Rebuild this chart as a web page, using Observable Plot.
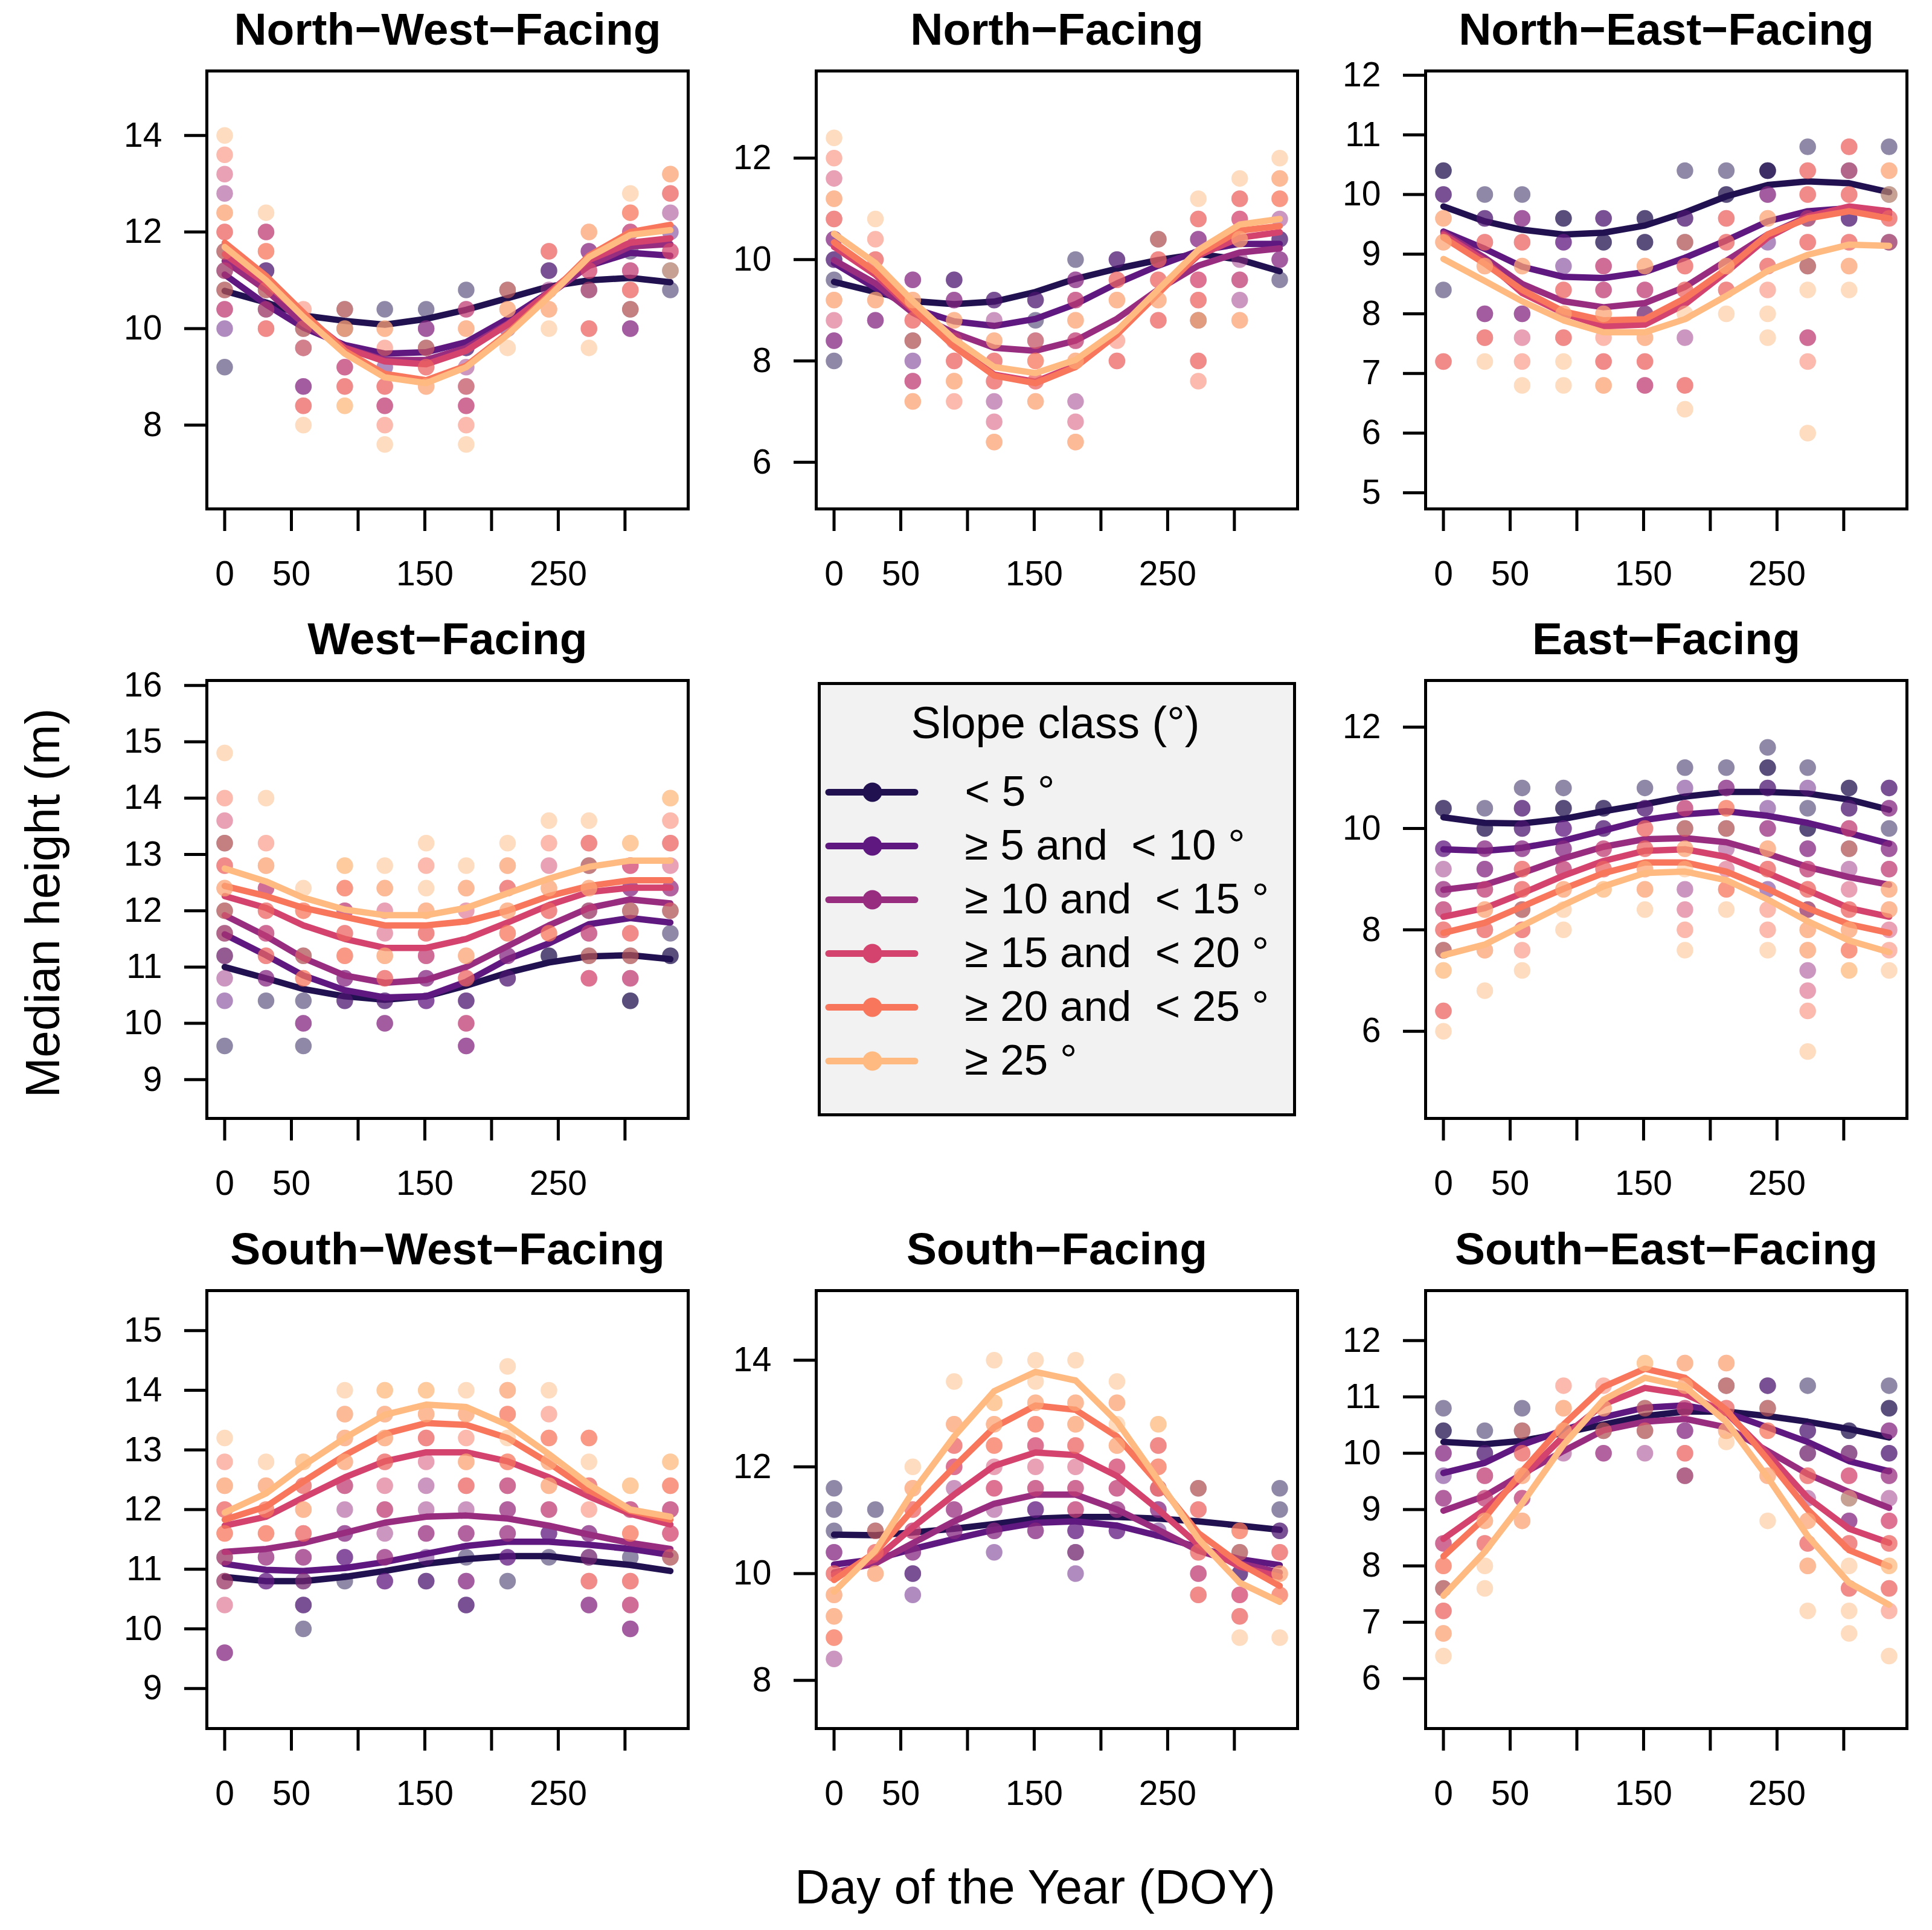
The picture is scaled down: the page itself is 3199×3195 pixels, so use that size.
<!DOCTYPE html>
<html>
<head>
<meta charset="utf-8">
<script src="https://cdn.jsdelivr.net/npm/d3@7"></script>
<script src="https://cdn.jsdelivr.net/npm/@observablehq/plot@0.6"></script>
<style>
  body { margin: 0; background: #fff; }
  #page { position: relative; width: 3199px; height: 3195px; background: #fff; overflow: hidden; }
  #page svg { position: absolute; }
</style>
</head>
<body>
<div id="page"></div>
<script>
const FONT = '"Liberation Sans", Arial, Helvetica, sans-serif';

// Day of year of each monthly acquisition
const doy = [0, 31, 59, 90, 120, 151, 181, 212, 243, 273, 304, 334];
const xTicks = [0, 50, 100, 150, 200, 250, 300];
const xTickLabels = [0, 50, 150, 250];

const slopeClasses = ["< 5 °", "≥ 5 and  < 10 °", "≥ 10 and  < 15 °", "≥ 15 and  < 20 °", "≥ 20 and  < 25 °", "≥ 25 °"];
const slopeColors = ["#221150", "#5F187F", "#982D80", "#D3436E", "#F8765C", "#FEBA80"];

// Observed points: [doy index, median height, slope classes observed at that value...]
const ptsNW = [
  [0,14.0,6],[0,13.6,5],[0,13.2,4],[0,12.8,3],[0,12.4,6,5],[0,12.0,4,5],[0,11.6,1,5],[0,11.2,1,4],[0,10.8,1,5],[0,10.4,3,4],[0,10.0,2],[0,9.2,1],
  [1,12.4,6],[1,12.0,3,4],[1,11.6,5,5],[1,11.2,1,2],[1,10.8,5,1],[1,10.4,4,1],[1,10.0,5,4],
  [2,10.4,5],[2,10.0,1,5],[2,9.6,5,2],[2,8.8,2,3],[2,8.4,5,4],[2,8.0,6],
  [3,10.4,1,5],[3,10.0,5,6,1],[3,9.2,3,4],[3,8.8,5,4],[3,8.4,6,6],
  [4,10.4,1],[4,10.0,5,6],[4,9.6,5],[4,9.2,2],[4,8.8,5,4],[4,8.4,3,4],[4,8.0,5],[4,7.6,6],
  [5,10.4,1],[5,10.0,3,2],[5,9.6,5,1],[5,9.2,5,4],[5,8.8,6,5],
  [6,10.8,1],[6,10.4,3,4],[6,10.0,6,5],[6,9.6,1,2],[6,9.2,3],[6,8.8,5,2],[6,8.4,3,4],[6,8.0,5],[6,7.6,6],
  [7,10.8,5,1],[7,10.4,5,6],[7,10.0,2],[7,9.6,6],
  [8,11.6,5,4],[8,11.2,1,2],[8,10.8,3],[8,10.4,5,6],[8,10.0,6],
  [9,12.0,5,6],[9,11.6,3,2],[9,11.2,4,4],[9,10.8,1,4],[9,10.0,5,4],[9,9.6,6],
  [10,12.8,6],[10,12.4,5,5],[10,12.0,3,4],[10,11.6,1],[10,11.2,4,3],[10,10.8,5,4],[10,10.4,5,1],[10,10.0,3,2],
  [11,13.2,6,5],[11,12.8,5,4],[11,12.4,3],[11,12.0,2],[11,11.6,4,4],[11,11.2,1,6],[11,10.8,1]
];
const ptsN = [
  [0,12.4,6],[0,12.0,5],[0,11.6,4],[0,11.2,6,5],[0,10.8,4,5],[0,10.4,2,3],[0,10.0,1,2],[0,9.6,1],[0,9.2,6,5],[0,8.8,4],[0,8.4,3,2],[0,8.0,1],
  [1,10.8,6],[1,10.4,5],[1,10.0,5,4],[1,9.2,6,5],[1,8.8,3,2],
  [2,9.6,2,3],[2,9.2,5,6],[2,8.8,5,4],[2,8.4,1,5],[2,8.0,2],[2,7.6,3,4],[2,7.2,6,5],
  [3,9.6,2,1],[3,9.2,2,3],[3,8.8,5,6],[3,8.4,4],[3,8.0,5,4],[3,7.6,5,6],[3,7.2,5],
  [4,9.2,1,2],[4,8.8,3],[4,8.4,5,6],[4,8.0,5,4],[4,7.6,4,5],[4,7.2,3],[4,6.8,4],[4,6.4,6,5],
  [5,9.2,1,2],[5,8.8,1],[5,8.4,5,2],[5,8.0,5,5],[5,7.6,4,5],[5,7.2,5,6],
  [6,10.0,1],[6,9.6,3,2],[6,9.2,3,4],[6,8.8,6,5],[6,8.4,3,4],[6,8.0,5,6],[6,7.2,3],[6,6.8,4],[6,6.4,6,5],
  [7,10.0,1,2],[7,9.6,4,5],[7,9.2,5,6],[7,8.4,5],[7,8.0,5,4],
  [8,10.4,1,5],[8,10.0,4,5],[8,9.6,4,5],[8,9.2,5,6],[8,8.8,5,4],
  [9,11.2,6],[9,10.8,4,5],[9,10.4,2,3],[9,9.6,4,4],[9,9.2,5,4],[9,8.8,1,5,6],[9,8.0,5,4],[9,7.6,5],
  [10,11.6,6],[10,11.2,5,4],[10,10.8,4,4],[10,10.4,6,5],[10,10.0,3],[10,9.6,4,3],[10,9.2,3],[10,8.8,5,6],
  [11,12.0,6],[11,11.6,5,6],[11,11.2,5,5],[11,10.8,3],[11,10.4,2,1],[11,10.0,3,2],[11,9.6,1]
];
const ptsNE = [
  [0,10.4,1,1],[0,10.0,2,1],[0,9.6,5,6],[0,9.2,6,5],[0,8.4,1],[0,7.2,5,4],
  [1,10.0,1],[1,9.6,1,2],[1,9.2,5,4],[1,8.8,6,5],[1,8.0,3,2],[1,7.6,4,5],[1,7.2,6],
  [2,10.0,1],[2,9.6,2,3],[2,9.2,4,5],[2,8.8,6,5],[2,8.0,3,2],[2,7.6,4],[2,7.2,5],[2,6.8,6],
  [3,9.6,1,1],[3,9.2,2,2],[3,8.8,2],[3,8.4,4,5],[3,8.0,5,6],[3,7.6,4,5],[3,7.2,6],[3,6.8,6],
  [4,9.6,1,2],[4,9.2,1,1],[4,8.8,3,4],[4,8.4,3,4],[4,8.0,6,5],[4,7.6,5],[4,7.2,4,5],[4,6.8,5,6],
  [5,9.6,1,1],[5,9.2,1,1],[5,8.8,5,6],[5,8.4,3,4],[5,8.0,3,1],[5,7.6,6,5],[5,7.2,4,5],[5,6.8,3,4],
  [6,10.4,1],[6,9.6,1,2],[6,9.2,5,1],[6,8.8,5,4],[6,8.4,4,5],[6,8.0,6],[6,7.6,3],[6,6.8,4,5],[6,6.4,6],
  [7,10.4,1],[7,10.0,1,1],[7,9.6,4,5],[7,9.2,4,5],[7,8.8,6,5],[7,8.4,5,4],[7,8.0,6],
  [8,10.4,1,1,1],[8,10.0,3,2],[8,9.6,5,6],[8,9.2,2],[8,8.8,5,4],[8,8.4,5],[8,8.0,6],[8,7.6,6],
  [9,10.8,1],[9,10.4,4,5],[9,10.0,4,5],[9,9.6,1,4],[9,9.2,4,5],[9,8.8,1,5],[9,8.4,6],[9,7.6,3,4],[9,7.2,5],[9,6.0,6],
  [10,10.8,5,4],[10,10.4,1,4],[10,10.0,4,5],[10,9.6,2,1],[10,9.2,5,4],[10,8.8,6,5],[10,8.4,6],
  [11,10.8,1],[11,10.4,5,6],[11,10.0,6,1],[11,9.6,4,5],[11,9.2,1,4]
];
const ptsW = [
  [0,14.8,6],[0,14.0,5],[0,13.6,4],[0,13.2,5,1],[0,12.8,4,5],[0,12.4,6,5],[0,12.0,1,5],[0,11.6,1,4],[0,11.2,3,1],[0,10.8,3],[0,10.4,2],[0,9.6,1],
  [1,14.0,6],[1,13.2,5],[1,12.8,5,6],[1,12.4,3,4],[1,12.0,5,4],[1,11.6,3,4],[1,11.2,5,4],[1,10.8,2,3],[1,10.4,1],
  [2,12.4,6],[2,12.0,5,5],[2,11.2,5,1],[2,10.8,5,5],[2,10.4,1],[2,10.0,3,2],[2,9.6,1],
  [3,12.8,6,6],[3,12.4,5,5],[3,12.0,3,4],[3,11.6,4,5],[3,11.2,5,5],[3,10.8,2,3],[3,10.4,1,2],
  [4,12.8,6],[4,12.4,5,6],[4,12.0,4],[4,11.6,4],[4,11.2,5,6],[4,10.8,4,5],[4,10.4,1,2],[4,10.0,3,2],
  [5,13.2,6],[5,12.8,5],[5,12.4,6],[5,12.0,5,6],[5,11.6,5,4],[5,11.2,3,4],[5,10.8,3,2],[5,10.4,2,2],
  [6,12.8,6],[6,12.4,6,5],[6,12.0,4],[6,11.2,5,6],[6,10.8,4,5],[6,10.4,2,1],[6,10.0,3,4],[6,9.6,2,3],
  [7,13.2,6],[7,12.8,6,5],[7,12.4,5,4],[7,12.0,5,6],[7,11.6,5,5],[7,11.2,3,2],[7,10.8,1,2],
  [8,13.6,6],[8,13.2,5],[8,12.8,4],[8,12.4,6,5],[8,12.0,4,5],[8,11.6,5,5],[8,11.2,1,1],
  [9,13.6,6],[9,13.2,5,4],[9,12.8,1,5],[9,12.4,5,6],[9,12.0,4,1],[9,11.6,3,4],[9,11.2,1,5],[9,10.8,4,4],
  [10,13.2,6,6],[10,12.8,4,4],[10,12.4,2,3],[10,12.0,5,1],[10,11.6,4,5],[10,11.2,5,1],[10,10.8,3,4],[10,10.4,1,1],
  [11,14.0,6,6],[11,13.6,5],[11,13.2,4,5],[11,12.8,4],[11,12.4,3,3],[11,12.0,5,1],[11,11.6,1],[11,11.2,1,1]
];
const ptsE = [
  [0,10.4,1,1],[0,9.6,2,2],[0,9.2,3],[0,8.8,3,3],[0,8.4,4,3],[0,8.0,5,4],[0,7.6,1,5],[0,7.2,6,6],[0,6.4,5,4],[0,6.0,6],
  [1,10.4,1],[1,10.0,1,1],[1,9.6,2,3],[1,9.2,3,2],[1,8.8,3,4],[1,8.4,5,6],[1,8.0,4,5],[1,7.6,6,5],[1,6.8,6],
  [2,10.8,1],[2,10.4,1,2],[2,10.0,1,2],[2,9.6,3,2],[2,9.2,5,4],[2,8.8,4,5],[2,8.4,1,5],[2,8.0,4,5],[2,7.6,5],[2,7.2,6],
  [3,10.8,1],[3,10.4,1,1],[3,10.0,2,2],[3,9.6,3,2],[3,9.2,4,3],[3,8.8,5,6],[3,8.4,6],[3,8.0,6],
  [4,10.4,1,1],[4,10.0,2,1],[4,9.6,3,4],[4,9.2,4,5],[4,8.8,6,6],
  [5,10.8,1],[5,10.4,1,2],[5,10.0,4,5],[5,9.6,5,4],[5,9.2,5,6],[5,8.8,5,6],[5,8.4,6],
  [6,11.2,1],[6,10.8,2],[6,10.4,3,4],[6,10.0,5,1],[6,9.6,5,6],[6,9.2,6],[6,8.8,3],[6,8.4,4],[6,8.0,5],[6,7.6,6],
  [7,11.2,1],[7,10.8,3,2],[7,10.4,5,5],[7,10.0,5,1],[7,9.6,3],[7,9.2,4],[7,8.8,5,5],[7,8.4,6],
  [8,11.6,1],[8,11.2,1,1],[8,10.8,1,2],[8,10.4,2],[8,10.0,3,3],[8,9.6,5,6],[8,9.2,5,4],[8,8.8,2],[8,8.4,5],[8,8.0,5],[8,7.6,6],
  [9,11.2,1],[9,10.8,2],[9,10.4,1],[9,10.0,1,1],[9,9.6,3,2],[9,9.2,4,3],[9,8.8,5,4],[9,8.4,4,1],[9,8.0,5,6],[9,7.6,5,6],[9,7.2,3],[9,6.8,4],[9,6.4,5],[9,5.6,6],
  [10,10.8,1,1],[10,10.4,2,1],[10,10.0,4,3],[10,9.6,5,1],[10,9.2,3],[10,8.8,4],[10,8.4,4,5],[10,8.0,5,6],[10,7.6,5,5],[10,7.2,6,6],
  [11,10.8,1,2],[11,10.4,2,3],[11,10.0,1],[11,9.6,3,2],[11,9.2,4,3],[11,8.8,5,6],[11,8.4,5,6],[11,8.0,4],[11,7.6,5],[11,7.2,6]
];
const ptsSW = [
  [0,13.2,6],[0,12.8,5],[0,12.4,5,6],[0,12.0,4,5],[0,11.6,5,5],[0,11.2,4,1],[0,10.8,1,4],[0,10.4,4],[0,9.6,3,2],
  [1,12.8,6],[1,12.4,5,6],[1,12.0,5,5],[1,11.6,5,5],[1,11.2,3,3],[1,10.8,2,2],
  [2,12.8,6,6],[2,12.4,4,5],[2,12.0,5,6],[2,11.6,5,4],[2,11.2,3,3],[2,10.8,3,1],[2,10.4,2,1],[2,10.0,1],
  [3,14.0,6],[3,13.6,6,5],[3,13.2,5,6],[3,12.8,5,6],[3,12.4,4,3],[3,12.0,3],[3,11.6,3,2],[3,11.2,2,2],[3,10.8,1],
  [4,14.0,6,6],[4,13.6,5,6],[4,13.2,6,5],[4,12.8,4,5],[4,12.4,4],[4,12.0,3,4],[4,11.6,3],[4,11.2,3,3],[4,10.8,2,2],
  [5,14.0,6,6],[5,13.6,6,5],[5,13.2,4,5],[5,12.8,4],[5,12.4,3],[5,12.0,3],[5,11.6,3,3],[5,11.2,2],[5,10.8,1,2],
  [6,14.0,6],[6,13.6,5,6],[6,13.2,5],[6,12.8,5,6],[6,12.4,4,5],[6,12.0,3],[6,11.6,3,3],[6,11.2,1],[6,10.8,3,2],[6,10.4,2,1],
  [7,14.4,6],[7,14.0,5,6],[7,13.6,5,5],[7,13.2,6],[7,12.8,5,5],[7,12.4,4,3],[7,12.0,3,3],[7,11.6,3,3],[7,11.2,2,2],[7,10.8,1],
  [8,14.0,6],[8,13.6,5],[8,13.2,5,5],[8,12.8,6,5],[8,12.4,5,6],[8,12.0,3,4],[8,11.6,2,2],[8,11.2,1],
  [9,13.2,5,5],[9,12.8,6],[9,12.4,4,5],[9,12.0,5],[9,11.6,3,2],[9,11.2,3,1],[9,10.8,5,4],[9,10.4,3,2],
  [10,12.4,6,6],[10,12.0,4,3],[10,11.6,5,5],[10,11.2,1],[10,10.8,5,4],[10,10.4,3,4],[10,10.0,3,2],
  [11,12.8,6,6],[11,12.4,5,5],[11,12.0,3,4],[11,11.6,4,4],[11,11.2,5,1]
];
const ptsS = [
  [0,11.6,1],[0,11.2,1],[0,10.8,1],[0,10.4,3,2],[0,10.0,5,4],[0,9.6,6,5],[0,9.2,6,5],[0,8.8,5,5],[0,8.4,3],
  [1,11.2,1],[1,10.8,1,5],[1,10.4,5,4],[1,10.0,5,6],
  [2,12.0,6],[2,11.6,6,5],[2,11.2,5,4],[2,10.8,3,4],[2,10.4,2,3],[2,10.0,1,2],[2,9.6,2],
  [3,13.6,6],[3,12.8,6,5],[3,12.4,5,4],[3,12.0,4,4],[3,11.6,3],[3,11.2,3,3],[3,10.8,3,2],
  [4,14.0,6],[4,13.2,6,6],[4,12.8,5,6],[4,12.4,5,5],[4,12.0,4],[4,11.6,4,4],[4,11.2,3],[4,10.8,3,2],[4,10.4,2],
  [5,14.0,6],[5,13.6,6],[5,13.2,6,5],[5,12.8,5,5],[5,12.4,4,4],[5,12.0,4],[5,11.6,3,4],[5,11.2,2,2],[5,10.8,2,3],
  [6,14.0,6],[6,13.2,6,5],[6,12.8,6,5],[6,12.4,5,4],[6,12.0,4],[6,11.6,3,4],[6,11.2,3,4],[6,10.8,2,2],[6,10.4,3,1],[6,10.0,2],
  [7,13.6,6],[7,13.2,6,5],[7,12.8,6],[7,12.4,5,6],[7,12.0,4,4],[7,11.6,3,4],[7,11.2,3,3],[7,10.8,2,2],
  [8,12.8,6,6],[8,12.4,5,4],[8,12.0,5,5],[8,11.6,4,5,3],[8,11.2,3,2],[8,10.8,2],
  [9,11.6,5,1],[9,11.2,4,5],[9,10.4,5,4],[9,10.0,3,4],[9,9.6,4,5],
  [10,10.8,5,5],[10,10.4,5,1],[10,10.0,1,2],[10,9.6,4,4],[10,9.2,4,5],[10,8.8,6],
  [11,11.6,1],[11,11.2,1],[11,10.8,1,2],[11,10.4,4,5],[11,10.0,6,5],[11,9.6,5,5],[11,8.8,6]
];
const ptsSE = [
  [0,10.8,1],[0,10.4,1,1],[0,10.0,2,3],[0,9.6,2],[0,9.2,3,3],[0,8.4,4,3],[0,8.0,5,5],[0,7.6,1,5],[0,7.2,5,4],[0,6.8,6,5],[0,6.4,6],
  [1,10.4,1],[1,10.0,1,2],[1,9.6,3,4],[1,9.2,3,4],[1,8.8,5,6],[1,8.4,5,4],[1,8.0,6],[1,7.6,6],
  [2,10.8,1],[2,10.4,5,1],[2,10.0,4,5],[2,9.6,5,6],[2,9.2,3,4],[2,8.8,6,5],
  [3,11.2,5],[3,10.8,5,6],[3,10.4,6,5],[3,10.0,3],
  [4,11.2,5],[4,10.8,6,5],[4,10.4,5,1],[4,10.0,3,3],
  [5,11.6,6,6],[5,10.8,5,1],[5,10.4,1,5],[5,10.0,3],
  [6,11.6,6,5],[6,11.2,6,5],[6,10.8,3,4],[6,10.4,3,2],[6,10.0,4,5],[6,9.6,1,4],
  [7,11.6,6,5],[7,11.2,5,1],[7,10.8,4,5],[7,10.4,6,5],[7,10.2,6],
  [8,11.2,2,1],[8,10.8,5,1],[8,10.4,5,5],[8,9.6,6,5],[8,8.8,6],
  [9,11.2,1],[9,10.4,2,1],[9,10.0,3,1],[9,9.6,4,5],[9,9.2,3],[9,8.8,6,5],[9,8.4,5,4],[9,8.0,6,5],[9,7.2,6],
  [10,10.4,1,1],[10,10.0,3,1],[10,9.6,4,4],[10,9.2,1,6],[10,8.8,3,2],[10,8.4,4,5],[10,8.0,6],[10,7.6,5,4],[10,7.2,6],[10,6.8,6],
  [11,11.2,1],[11,10.8,1,1],[11,10.4,2,3],[11,10.0,1,2],[11,9.6,3,3],[11,9.2,3],[11,8.8,4,4],[11,8.4,5,4],[11,8.0,6,6],[11,7.6,5,4],[11,7.2,5],[11,6.4,6]
];

// Fitted curves: one row per slope class (< 5 ... ≥ 25), one value per DOY
const fitNW = [
  [10.78,10.54,10.27,10.16,10.08,10.20,10.39,10.63,10.87,11.00,11.05,10.96],
  [11.12,10.50,10.02,9.66,9.48,9.51,9.72,10.20,10.75,11.30,11.57,11.51],
  [11.40,10.80,10.10,9.60,9.35,9.35,9.60,10.10,10.70,11.30,11.70,11.75],
  [11.54,10.93,10.27,9.60,9.32,9.26,9.54,10.08,10.75,11.42,11.78,11.87],
  [11.78,11.09,10.33,9.54,9.06,8.93,9.23,9.90,10.69,11.51,12.00,12.15],
  [11.69,11.00,10.24,9.48,8.99,8.87,9.20,9.87,10.66,11.48,11.94,12.04]
];
const fitN = [
  [9.56,9.36,9.18,9.12,9.17,9.36,9.62,9.82,9.99,10.11,10.00,9.77],
  [9.93,9.44,9.04,8.78,8.69,8.83,9.12,9.53,9.88,10.17,10.31,10.31],
  [9.99,9.53,8.95,8.55,8.26,8.20,8.40,8.83,9.41,9.88,10.14,10.22],
  [10.25,9.70,9.00,8.31,7.73,7.59,7.91,8.55,9.36,10.08,10.43,10.54],
  [10.34,9.76,9.04,8.28,7.71,7.56,7.88,8.52,9.33,10.11,10.57,10.66],
  [10.51,9.93,9.18,8.43,7.88,7.76,8.02,8.60,9.41,10.19,10.69,10.80]
];
const fitNE = [
  [9.80,9.55,9.41,9.33,9.36,9.48,9.70,9.97,10.16,10.22,10.19,10.04],
  [9.38,9.09,8.79,8.62,8.60,8.70,8.94,9.23,9.55,9.72,9.77,9.72],
  [9.36,8.94,8.50,8.21,8.11,8.18,8.45,8.89,9.33,9.63,9.75,9.67],
  [9.33,8.89,8.35,8.01,7.79,7.82,8.16,8.70,9.28,9.63,9.80,9.72],
  [9.28,8.84,8.40,8.04,7.89,7.91,8.26,8.75,9.33,9.60,9.72,9.60],
  [8.92,8.55,8.21,7.89,7.69,7.69,7.91,8.30,8.72,8.99,9.16,9.14]
];
const fitW = [
  [11.00,10.80,10.61,10.48,10.42,10.48,10.67,10.90,11.08,11.19,11.21,11.14],
  [11.58,11.21,10.85,10.59,10.46,10.48,10.74,11.14,11.42,11.76,11.87,11.79],
  [11.92,11.55,11.16,10.85,10.72,10.77,11.00,11.37,11.74,12.05,12.20,12.13],
  [12.26,12.05,11.74,11.50,11.34,11.34,11.50,11.79,12.10,12.33,12.41,12.41],
  [12.44,12.26,12.05,11.89,11.74,11.74,11.81,12.00,12.26,12.44,12.54,12.54],
  [12.75,12.52,12.23,12.02,11.92,11.92,12.05,12.31,12.57,12.78,12.89,12.89]
];
const fitE = [
  [10.22,10.11,10.10,10.19,10.34,10.48,10.63,10.72,10.72,10.69,10.57,10.37],
  [9.59,9.56,9.62,9.76,9.96,10.17,10.28,10.34,10.25,10.11,9.91,9.70],
  [8.79,8.89,9.12,9.41,9.64,9.79,9.81,9.73,9.50,9.24,9.04,8.89],
  [8.26,8.43,8.72,9.07,9.36,9.56,9.59,9.44,9.12,8.78,8.43,8.26],
  [7.94,8.14,8.46,8.81,9.12,9.33,9.33,9.15,8.81,8.43,8.11,7.94],
  [7.50,7.71,8.08,8.49,8.86,9.12,9.15,8.98,8.60,8.17,7.79,7.56]
];
const fitSW = [
  [10.87,10.80,10.80,10.87,10.97,11.09,11.17,11.22,11.22,11.14,11.07,10.97],
  [11.09,10.99,10.97,11.02,11.12,11.26,11.39,11.46,11.46,11.41,11.34,11.24],
  [11.29,11.34,11.44,11.61,11.78,11.88,11.90,11.85,11.73,11.58,11.44,11.34],
  [11.73,11.88,12.20,12.54,12.81,12.96,12.96,12.81,12.54,12.22,11.93,11.75],
  [11.83,12.05,12.47,12.91,13.27,13.45,13.42,13.20,12.78,12.32,11.98,11.83],
  [11.95,12.27,12.74,13.20,13.59,13.76,13.72,13.42,12.93,12.42,12.00,11.88]
];
const fitS = [
  [10.73,10.72,10.77,10.84,10.93,11.03,11.06,11.06,11.03,10.98,10.90,10.82],
  [10.17,10.27,10.46,10.65,10.82,10.95,10.98,10.90,10.71,10.49,10.27,10.16],
  [10.02,10.19,10.57,10.98,11.31,11.48,11.48,11.20,10.82,10.43,10.19,10.02],
  [9.97,10.27,10.87,11.48,12.02,12.27,12.22,11.83,11.20,10.54,10.13,9.94],
  [9.88,10.40,11.20,12.00,12.74,13.15,13.07,12.57,11.69,10.76,10.19,9.77],
  [9.66,10.43,11.53,12.57,13.42,13.78,13.62,12.85,11.75,10.65,9.83,9.47]
];
const fitSE = [
  [10.20,10.16,10.22,10.36,10.51,10.66,10.74,10.74,10.66,10.56,10.43,10.28],
  [9.65,9.83,10.15,10.41,10.64,10.81,10.85,10.72,10.46,10.20,9.86,9.68],
  [8.98,9.24,9.63,10.04,10.41,10.56,10.61,10.46,10.04,9.63,9.31,9.03],
  [8.48,9.00,9.57,10.30,10.87,11.16,11.05,10.72,9.99,9.21,8.66,8.41],
  [8.17,8.85,9.68,10.51,11.18,11.50,11.34,10.77,9.89,9.00,8.28,7.99],
  [7.47,8.25,9.11,10.15,10.95,11.34,11.18,10.56,9.57,8.53,7.70,7.31]
];

// y-axis tick values per panel
const yTicksNW = [8, 10, 12, 14];
const yTicksN = [6, 8, 10, 12];
const yTicksNE = [5, 6, 7, 8, 9, 10, 11, 12];
const yTicksW = [9, 10, 11, 12, 13, 14, 15, 16];
const yTicksE = [6, 8, 10, 12];
const yTicksSW = [9, 10, 11, 12, 13, 14, 15];
const yTicksS = [8, 10, 12, 14];
const yTicksSE = [6, 7, 8, 9, 10, 11, 12];

const panels = [
  {title: "North\u2212West\u2212Facing", pts: ptsNW, fit: fitNW, yTicks: yTicksNW, col: 0, row: 0},
  {title: "North\u2212Facing", pts: ptsN, fit: fitN, yTicks: yTicksN, col: 1, row: 0},
  {title: "North\u2212East\u2212Facing", pts: ptsNE, fit: fitNE, yTicks: yTicksNE, col: 2, row: 0},
  {title: "West\u2212Facing", pts: ptsW, fit: fitW, yTicks: yTicksW, col: 0, row: 1},
  {title: "East\u2212Facing", pts: ptsE, fit: fitE, yTicks: yTicksE, col: 2, row: 1},
  {title: "South\u2212West\u2212Facing", pts: ptsSW, fit: fitSW, yTicks: yTicksSW, col: 0, row: 2},
  {title: "South\u2212Facing", pts: ptsS, fit: fitS, yTicks: yTicksS, col: 1, row: 2},
  {title: "South\u2212East\u2212Facing", pts: ptsSE, fit: fitSE, yTicks: yTicksSE, col: 2, row: 2}
];

// Layout (pixels)
const colLeft = [342, 1351, 2360];
const rowTop = [117, 1126, 2136];
const boxW = 797, boxH = 725;
const mL = 160, mR = 40, mT = 110, mB = 150;

const page = document.getElementById("page");

function place(svg, left, top) {
  svg.style.position = "absolute";
  svg.style.left = left + "px";
  svg.style.top = top + "px";
  svg.style.overflow = "visible";
  page.appendChild(svg);
}

for (const p of panels) {
  const obs = p.pts.flatMap(([d, h, ...cs]) => cs.map(c => ({doy: doy[d], h, cls: c})));
  const fit = p.fit.flatMap((vals, i) => vals.map((h, j) => ({doy: doy[j], h, cls: i + 1})));
  const [lo, hi] = d3.extent(obs, o => o.h);
  const ya = lo - 1, yb = hi + 1, py = (yb - ya) * 0.04;
  const [xa, xb] = d3.extent(doy), px = (xb - xa) * 0.04;
  const marks = [];
  for (let c = 1; c <= 6; c++) {
    marks.push(Plot.dot(obs.filter(o => o.cls === c), {x: "doy", y: "h", r: 13.75, fill: slopeColors[c - 1], fillOpacity: 0.5}));
    marks.push(Plot.line(fit.filter(o => o.cls === c), {x: "doy", y: "h", stroke: slopeColors[c - 1], strokeWidth: 10.5, strokeLinecap: "round", strokeLinejoin: "round"}));
  }
  marks.push(Plot.frame({stroke: "black", strokeWidth: 5}));
  marks.push(Plot.axisY(p.yTicks, {anchor: "left", tickSize: 37, tickPadding: 37, fontSize: 57, strokeWidth: 5, label: null,
    tickFormat: d => String(d)}));
  marks.push(Plot.axisX(xTicks, {anchor: "bottom", tickSize: 37, tickPadding: 49, fontSize: 57, strokeWidth: 5, label: null,
    tickFormat: d => xTickLabels.includes(d) ? String(d) : ""}));
  marks.push(Plot.text([p.title], {text: d => d, frameAnchor: "top", dy: -97, lineAnchor: "top", fontSize: 75, fontWeight: "bold"}));
  const svg = Plot.plot({
    width: mL + boxW + mR, height: mT + boxH + mB,
    marginLeft: mL, marginRight: mR, marginTop: mT, marginBottom: mB,
    x: {domain: [xa - px, xb + px]},
    y: {domain: [ya - py, yb + py]},
    style: {fontFamily: FONT, background: "transparent", color: "black", fontSize: "57px"},
    marks
  });
  place(svg, colLeft[p.col] - mL, rowTop[p.row] - mT);
}

// Legend
const legW = 787, legH = 714, lm = 6;
const legend = Plot.plot({
  width: legW + 2 * lm, height: legH + 2 * lm,
  marginLeft: lm, marginRight: lm, marginTop: lm, marginBottom: lm,
  x: {domain: [0, legW], range: [lm, lm + legW], axis: null},
  y: {type: "point", domain: slopeClasses, range: [lm + 179, lm + 626], padding: 0, axis: null},
  color: {type: "identity"},
  style: {fontFamily: FONT, background: "transparent", color: "black"},
  marks: [
    Plot.frame({fill: "#F2F2F2", stroke: "black", strokeWidth: 5}),
    Plot.text(["Slope class (°)"], {text: d => d, x: 391, frameAnchor: "top", dy: 38, lineAnchor: "top", fontSize: 74}),
    Plot.ruleY(slopeClasses, {y: d => d, x1: 16, x2: 159, stroke: (d, i) => slopeColors[i], strokeWidth: 11, strokeLinecap: "round"}),
    Plot.dot(slopeClasses, {y: d => d, x: 88, r: 16, fill: (d, i) => slopeColors[i]}),
    Plot.text(slopeClasses, {y: d => d, x: 241, text: d => d, textAnchor: "start", fontSize: 71})
  ]
});
place(legend, 1356 - lm, 1131 - lm);

// Shared axis titles
const over = d3.select(page).append("svg")
  .attr("width", 3199).attr("height", 3195)
  .style("position", "absolute").style("left", "0px").style("top", "0px")
  .style("pointer-events", "none");
over.append("text")
  .attr("x", 1714).attr("y", 3151)
  .attr("text-anchor", "middle")
  .style("font-family", FONT).style("font-size", "80px")
  .text("Day of the Year (DOY)");
over.append("text")
  .attr("transform", "translate(98,1495) rotate(-90)")
  .attr("text-anchor", "middle")
  .style("font-family", FONT).style("font-size", "80px")
  .text("Median height (m)");
</script>
</body>
</html>
